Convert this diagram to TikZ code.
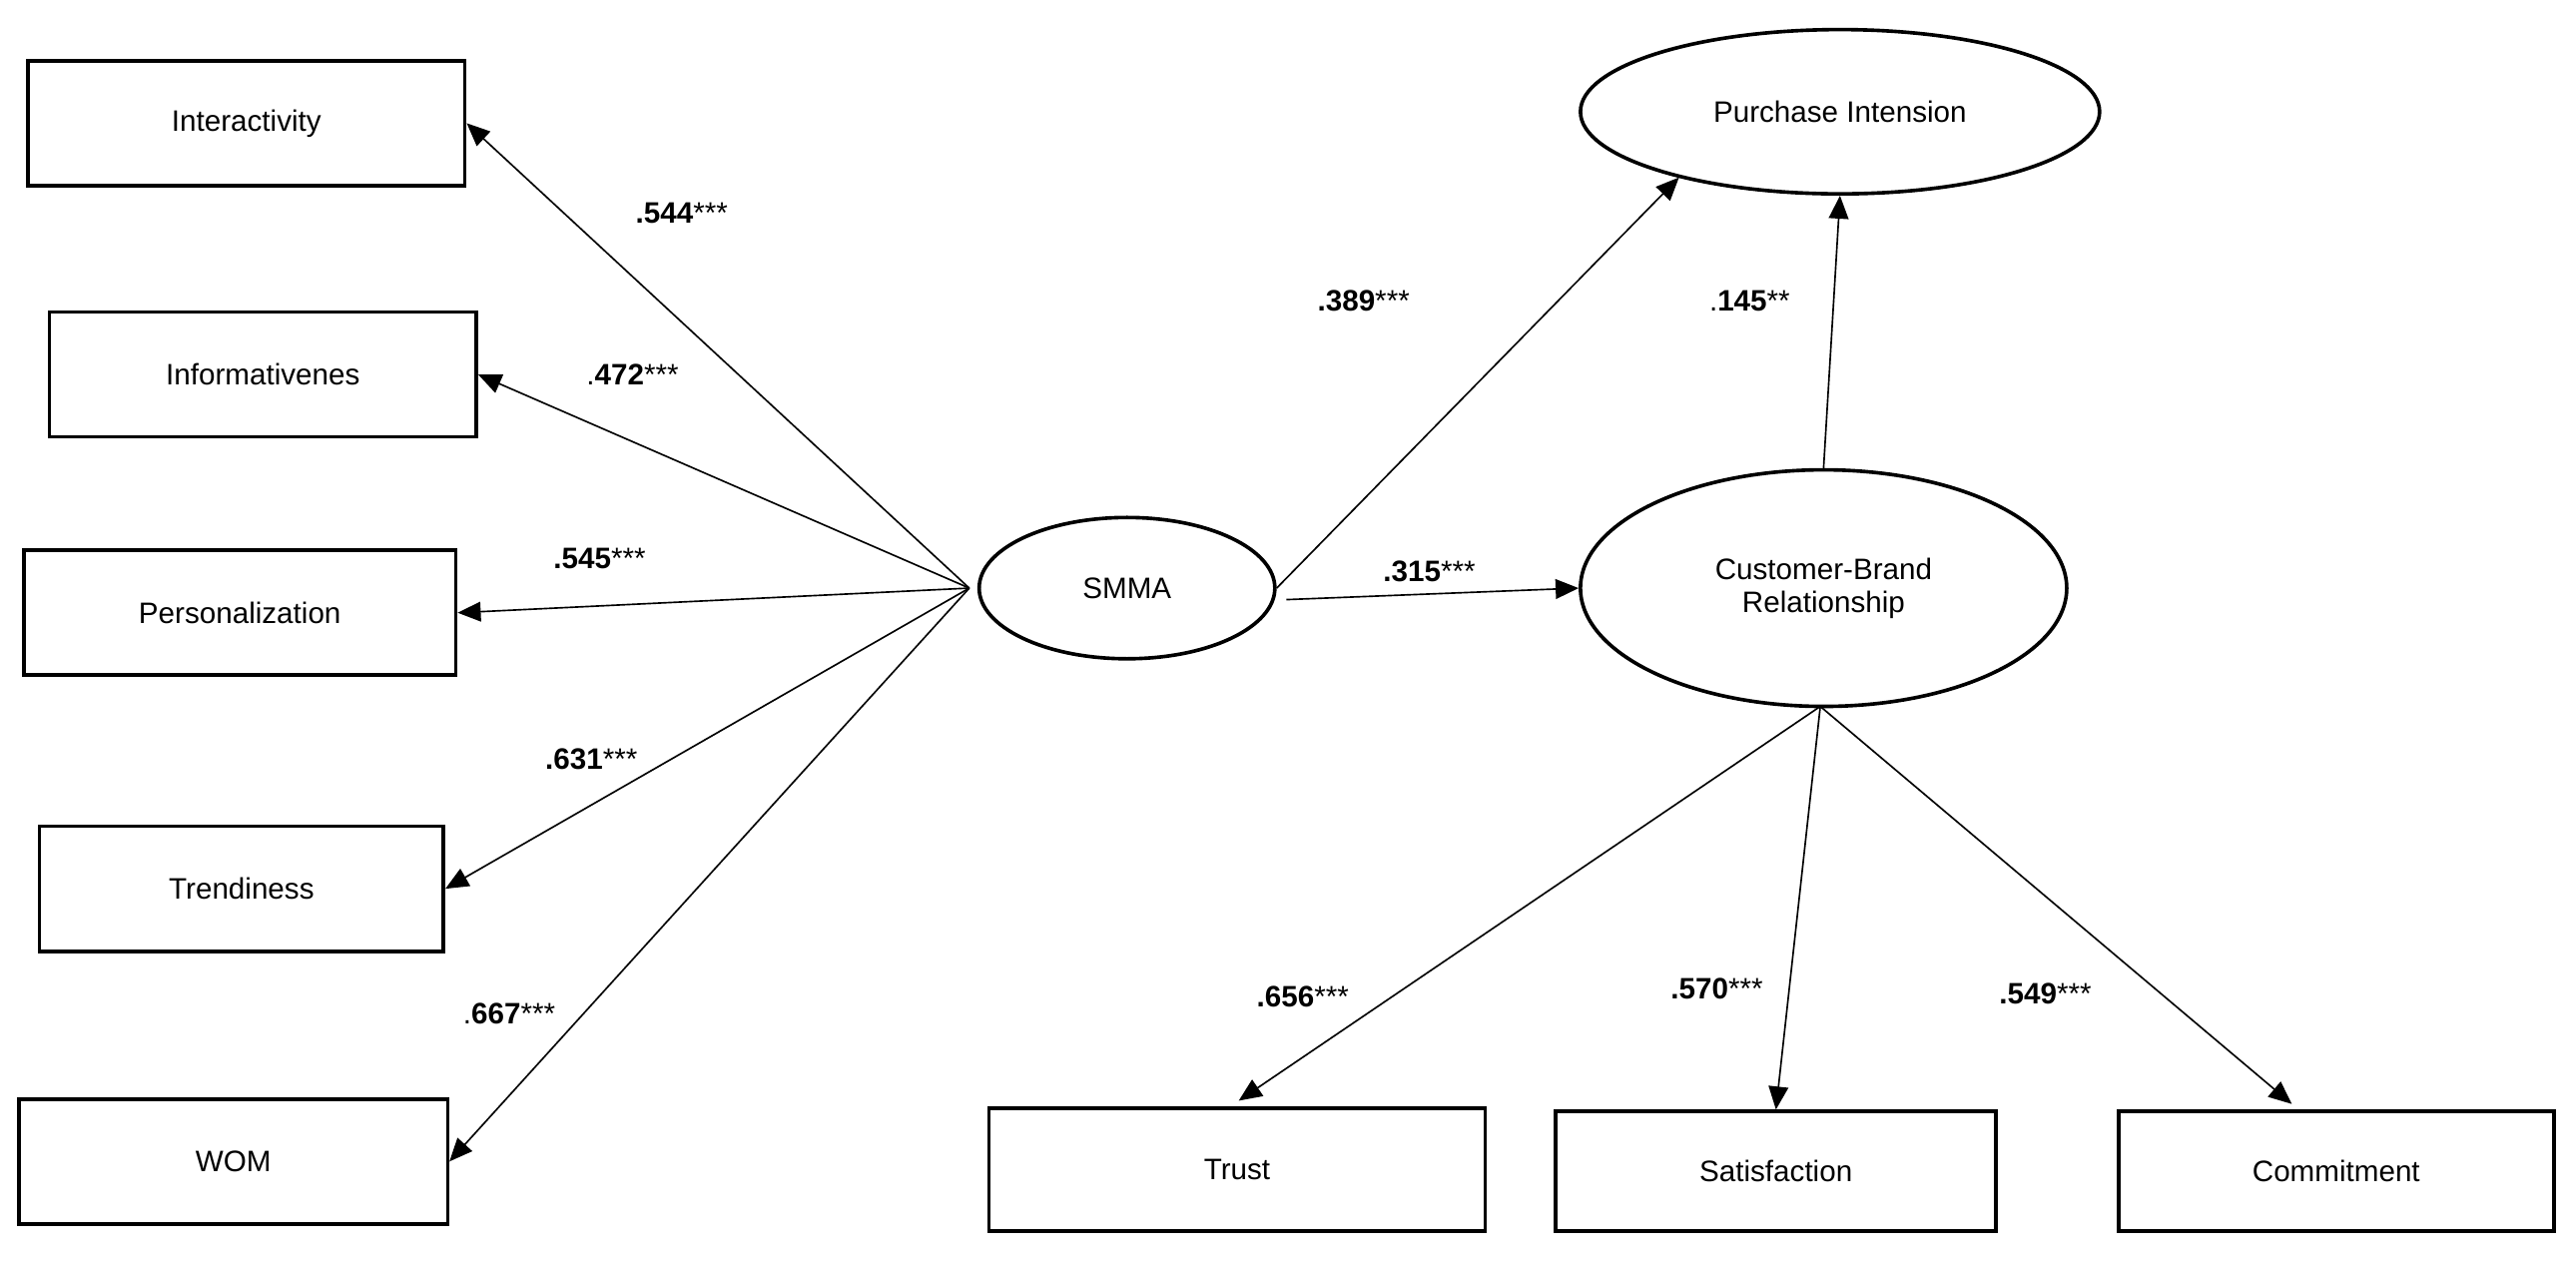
\documentclass[tikz,border=0pt]{standalone}
\usepackage{fontspec}
\setmainfont{Liberation Sans}
\usetikzlibrary{shapes.geometric,arrows.meta}
\begin{document}
\begin{tikzpicture}[x=1pt,y=-1pt,
  box/.style={draw,line width=2.2pt,minimum width=#1,minimum height=76pt,font=\fontsize{18}{20}\selectfont},
  ell/.style={draw,ellipse,line width=2.2pt,font=\fontsize{18}{20}\selectfont,align=center,inner sep=0pt},
  arr/.style={line width=1pt,-{Triangle[length=14pt,width=12pt]}},
  lab/.style={font=\fontsize{18}{20}\selectfont}]
\useasboundingbox (0,0) rectangle (1568,770);
\node[box=266pt] (int) at (150,75) {Interactivity};
\node[box=260pt] (inf) at (160,228) {Informativenes};
\node[box=263pt] (per) at (146,373) {Personalization};
\node[box=246pt] (tre) at (147,541) {Trendiness};
\node[box=261pt] (wom) at (142,707) {WOM};
\node[ell,minimum width=180pt,minimum height=86pt] (smma) at (686,358) {SMMA};
\node[ell,minimum width=316pt,minimum height=100pt] (pi) at (1120,68) {Purchase Intension};
\node[ell,minimum width=296pt,minimum height=144pt] (cbr) at (1110,358) {Customer-Brand\\Relationship};
\node[box=302pt,minimum height=75pt] (tru) at (753,712) {Trust};
\node[box=268pt,minimum height=73pt] (sat) at (1081,713) {Satisfaction};
\node[box=265pt,minimum height=73pt] (com) at (1422,713) {Commitment};
\coordinate (sl) at (590,358);
\coordinate (cb) at (1108,430);
\draw[arr] (sl) -- (int.east);
\draw[arr] (sl) -- (inf.east);
\draw[arr] (sl) -- (per.east);
\draw[arr] (sl) -- (tre.east);
\draw[arr] (sl) -- (wom.east);
\draw[arr] (smma.east) -- (1022,108);
\draw[arr] (783,365) -- (cbr.west);
\draw[arr] (cbr.north) -- (pi.south);
\draw[arr] (cb) -- (754,670);
\draw[arr] (cb) -- (sat.north);
\draw[arr] (cb) -- (1395,672);
\node[lab] (l1) at (415,130) {\textbf{.544}***};
\node[lab] (l2) at (385,228) {.\textbf{472}***};
\node[lab] (l3) at (365,340) {\textbf{.545}***};
\node[lab] (l4) at (360,462) {\textbf{.631}***};
\node[lab] (l5) at (310,617) {.\textbf{667}***};
\node[lab] (l6) at (830,183) {\textbf{.389}***};
\node[lab] (l7) at (870,348) {\textbf{.315}***};
\node[lab] (l8) at (1065,183) {.\textbf{145}**};
\node[lab] (l9) at (793,607) {\textbf{.656}***};
\node[lab] (l10) at (1045,602) {\textbf{.570}***};
\node[lab] (l11) at (1245,605) {\textbf{.549}***};
\end{tikzpicture}
\end{document}
